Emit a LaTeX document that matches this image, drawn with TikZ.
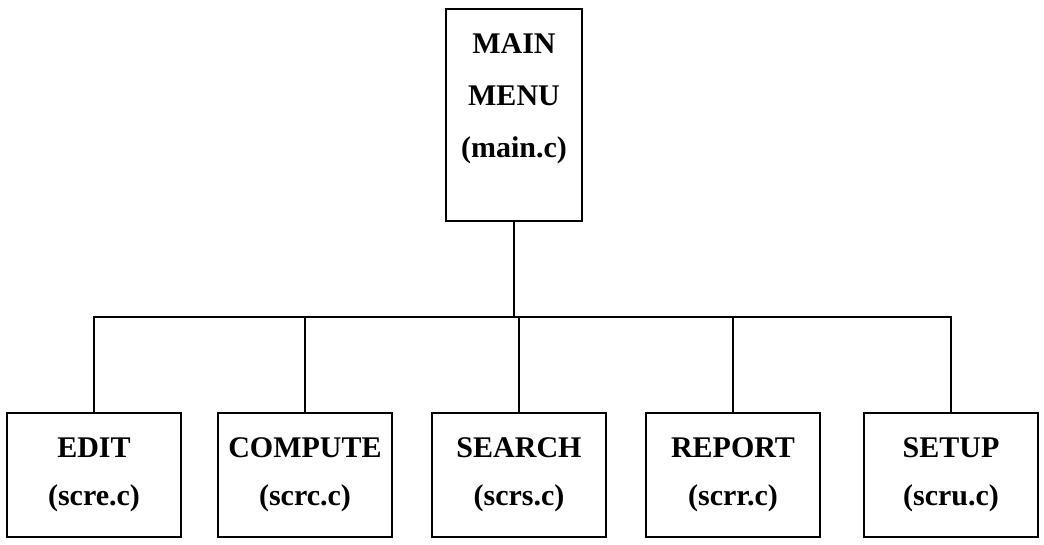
\documentclass[tikz,border=0pt]{standalone}
\usepackage{fontspec}
\setmainfont{Liberation Serif}
\usepackage{tikz}
\usetikzlibrary{positioning}

\begin{document}
\begin{tikzpicture}[x=1pt,y=-1pt]
	 \tikzstyle{module}=[draw,line width=1.4pt,rectangle,minimum width=174pt,minimum height=124pt,inner sep=0pt,align=center,font=\bfseries\fontsize{30}{48}\selectfont]
	 \tikzstyle{edge} = [draw,line width=1.4pt,-,black]
	 \useasboundingbox (0,0) rectangle (1044,545);

	 \node[draw,line width=1.4pt,minimum width=136pt,minimum height=212pt,inner sep=0pt] (main) at (514,115) {};
	 \node[align=center,font=\bfseries\fontsize{30}{52}\selectfont] (maintext) at (514,99) {MAIN\\MENU\\(main.c)};

	 \node[module] (edit) at (94,475) {EDIT\\(scre.c)};
	 \node[module] (compute) at (305,475) {COMPUTE\\(scrc.c)};
	 \node[module] (search) at (519,475) {SEARCH\\(scrs.c)};
	 \node[module] (report) at (733,475) {REPORT\\(scrr.c)};
	 \node[module] (setup) at (951,475) {SETUP\\(scru.c)};

	 \coordinate (bus) at (main.south |- 0,317);
	 \draw[edge] (main.south) -- (bus);
	 \foreach \n in {edit,compute,search,report,setup}
		 \draw[edge] (bus) -| (\n.north);

 \end{tikzpicture}
\end{document}
